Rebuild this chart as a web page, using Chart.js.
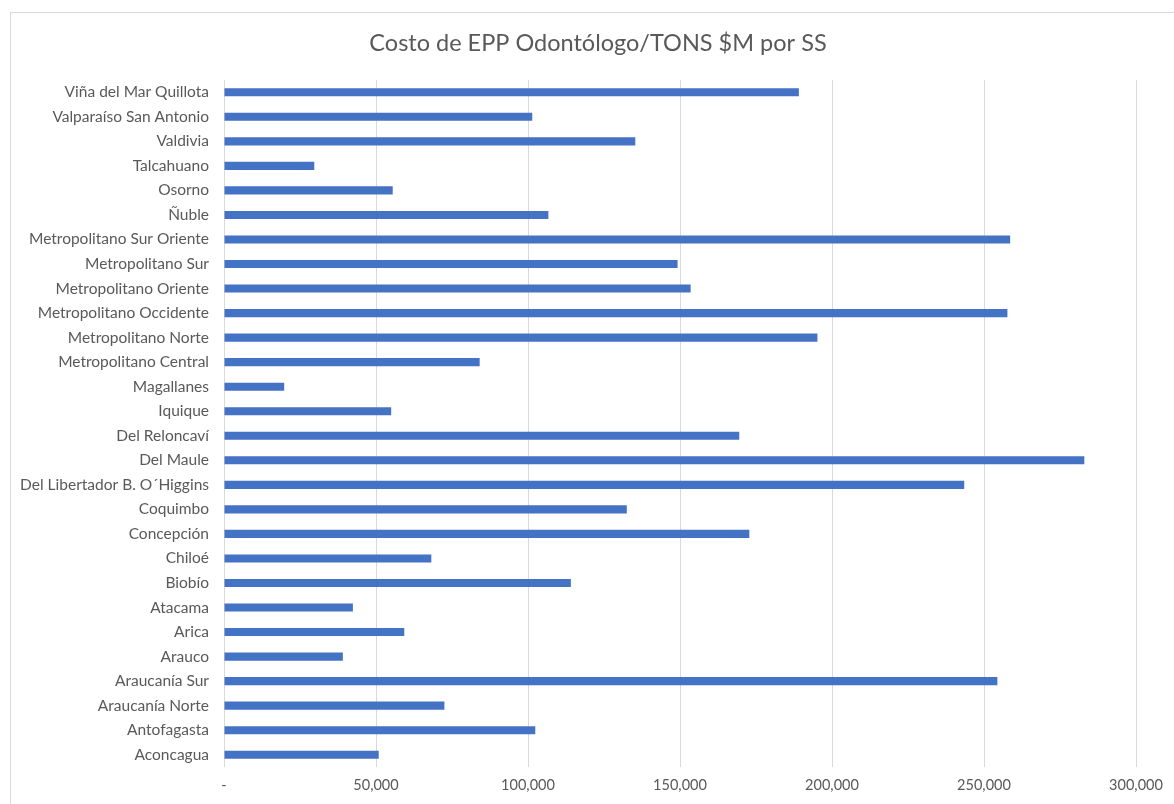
<!DOCTYPE html>
<html>
<head>
<meta charset="utf-8">
<script src="https://cdn.jsdelivr.net/npm/chart.js@4"></script>
<style>
  html, body { margin: 0; padding: 0; background: #fff; }
  #wrap { width: 1174px; height: 804px; }
</style>
</head>
<body>
<div id="wrap"><canvas id="costChart" width="1174" height="804"></canvas></div>
<script>
// categories, top to bottom as shown
const servicios = [
    "Viña del Mar Quillota", "Valparaíso San Antonio", "Valdivia", "Talcahuano",
    "Osorno", "Ñuble", "Metropolitano Sur Oriente", "Metropolitano Sur",
    "Metropolitano Oriente", "Metropolitano Occidente", "Metropolitano Norte",
    "Metropolitano Central", "Magallanes", "Iquique", "Del Reloncaví", "Del Maule",
    "Del Libertador B. O´Higgins", "Coquimbo", "Concepción", "Chiloé", "Biobío",
    "Atacama", "Arica", "Arauco", "Araucanía Sur", "Araucanía Norte",
    "Antofagasta", "Aconcagua"
];

const costos = [
    189100, 101400, 135300, 29700,
    55500, 106700, 258600, 149200,
    153500, 257700, 195200,
    84100, 19800, 55000, 169500, 283000,
    243500, 132500, 172800, 68200, 114100,
    42400, 59300, 39100, 254400, 72500,
    102400, 50900
];

const xTickLabels = ["-", "50,000", "100,000", "150,000", "200,000", "250,000", "300,000"];

const chartTitle = "Costo de EPP Odontólogo/TONS $M por SS";

const txt = "#595959";
const fontFam = "Lato, 'Liberation Sans', sans-serif";
Chart.defaults.font.family = fontFam;
Chart.defaults.color = txt;

// outer frame + title, centred on the spreadsheet chart box (wider than the crop)
const frame = {
    id: "frame",
    beforeDraw(chart) {
        const c = chart.ctx;
        c.save();
        c.fillStyle = "#fff";
        c.fillRect(0, 0, chart.width, chart.height);
        c.strokeStyle = "#d9d9d9";
        c.lineWidth = 1;
        c.strokeRect(10.5, 12.5, 1300, 900);
        c.fillStyle = txt;
        c.font = "23.5px " + fontFam;
        c.textAlign = "center";
        c.textBaseline = "middle";
        c.fillText(chartTitle, 598, 43);
        c.restore();
    }
};

const ctx = document.getElementById("costChart");

new Chart(ctx, {
    type: "bar",
    data: {
        labels: servicios,
        datasets: [{
            data: costos,
            backgroundColor: "#4472C4",
            barPercentage: 0.33,
            categoryPercentage: 1.0
        }]
    },
    options: {
        indexAxis: "y",
        responsive: false,
        animation: false,
        layout: {
            padding: { left: 10, right: 38, top: 80, bottom: 11 }
        },
        plugins: {
            legend: { display: false },
            tooltip: { enabled: false },
            title: { display: false }
        },
        scales: {
            x: {
                min: 0,
                max: 300000,
                ticks: {
                    stepSize: 50000,
                    padding: 10,
                    font: { size: 14.5 },
                    callback: (v, i) => xTickLabels[i]
                },
                grid: { color: "#d9d9d9", drawTicks: false },
                border: { display: false },
                afterFit(s) { s.height = 26; }
            },
            y: {
                ticks: {
                    padding: 15,
                    autoSkip: false,
                    font: { size: 15.5 }
                },
                grid: { display: false, drawTicks: false },
                border: { display: false },
                afterFit(s) { s.width = 214; }
            }
        }
    },
    plugins: [frame]
});
</script>
</body>
</html>
